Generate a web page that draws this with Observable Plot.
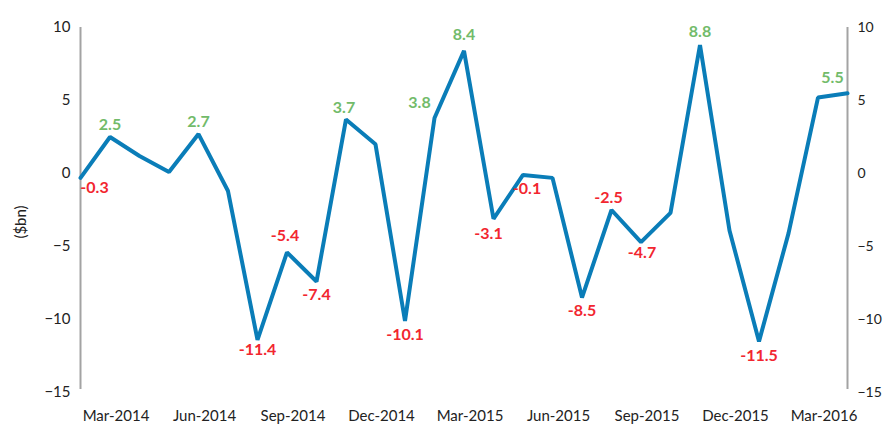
<!DOCTYPE html>
<html>
<head>
<meta charset="utf-8">
<script src="https://cdn.jsdelivr.net/npm/d3@7"></script>
<script src="https://cdn.jsdelivr.net/npm/@observablehq/plot@0.6"></script>
<style>
  html, body { margin: 0; padding: 0; background: #fff; }
  #chart { width: 883px; height: 425px; }
  svg { font-family: Lato, "Open Sans", sans-serif; }
</style>
</head>
<body>
<div id="chart"></div>
<script>
// Months (categories)
const months = [
  "Feb-2014","Mar-2014","Apr-2014","May-2014","Jun-2014","Jul-2014","Aug-2014","Sep-2014","Oct-2014","Nov-2014","Dec-2014",
  "Jan-2015","Feb-2015","Mar-2015","Apr-2015","May-2015","Jun-2015","Jul-2015","Aug-2015","Sep-2015","Oct-2015","Nov-2015","Dec-2015",
  "Jan-2016","Feb-2016","Mar-2016","Apr-2016"
];
// Series values ($bn)
const values = [
  -0.3, 2.5, 1.2, 0.1, 2.7, -1.2, -11.4, -5.4, -7.4, 3.7, 2.0,
  -10.1, 3.8, 8.4, -3.1, -0.1, -0.3, -8.5, -2.5, -4.7, -2.7, 8.8, -3.9,
  -11.5, -4.1, 5.2, 5.5
];
// Months that carry a value label
const labelledMonths = [
  "Feb-2014","Mar-2014","Jun-2014","Aug-2014","Sep-2014","Oct-2014","Nov-2014","Jan-2015","Feb-2015","Mar-2015",
  "Apr-2015","May-2015","Jul-2015","Aug-2015","Sep-2015","Nov-2015","Jan-2016","Apr-2016"
];
// X-axis tick labels
const xTicks = ["Mar-2014","Jun-2014","Sep-2014","Dec-2014","Mar-2015","Jun-2015","Sep-2015","Dec-2015","Mar-2016"];
// Y-axis ticks
const yTicks = [-15, -10, -5, 0, 5, 10];
const yTitle = "($bn)";

const data = months.map((m, i) => ({month: m, value: values[i]}));

// label placement (dx, dy) per labelled month — styling only
const placement = {
  "Feb-2014": [14, 10], "Mar-2014": [0, -12], "Jun-2014": [0, -12], "Aug-2014": [0, 10],
  "Sep-2014": [-2, -16], "Oct-2014": [0, 13], "Nov-2014": [-2, -12], "Jan-2015": [0, 14],
  "Feb-2015": [-15, -15], "Mar-2015": [0, -16], "Apr-2015": [-5, 15], "May-2015": [4, 14],
  "Jul-2015": [0, 13], "Aug-2015": [-3, -12], "Sep-2015": [1, 11], "Nov-2015": [0, -13],
  "Jan-2016": [0, 14], "Apr-2016": [-15, -15]
};
const labels = data.filter(d => labelledMonths.includes(d.month)).map(d => ({
  ...d,
  dx: placement[d.month][0],
  dy: placement[d.month][1]
}));

const green = "#72bb6a", red = "#f2262f", blue = "#0a7db8", gray = "#a3a3a3";

const textMarks = labels.map(d => Plot.text([d], {
  x: "month", y: "value",
  text: v => v.value.toFixed(1),
  dx: d.dx, dy: d.dy,
  fill: d.value >= 0 ? green : red,
  fontSize: 16, fontWeight: "bold",
  textAnchor: "middle", lineAnchor: "middle"
}));

const chart = Plot.plot({
  width: 883,
  height: 425,
  marginLeft: 80,
  marginRight: 36,
  marginTop: 27,
  marginBottom: 33,
  style: {fontFamily: "Lato, 'Open Sans', sans-serif", fontSize: "15px", color: "#222", background: "#fff"},
  x: {type: "point", domain: months, padding: 0, round: false},
  y: {domain: [-15, 10]},
  marks: [
    Plot.ruleY([0], {x1: months[0], x2: months[months.length - 1], stroke: gray, strokeWidth: 2}),
    Plot.ruleX([months[0], months[months.length - 1]], {y1: -14.8, y2: 10, stroke: gray, strokeWidth: 2}),
    Plot.line(data, {x: "month", y: "value", stroke: blue, strokeWidth: 4, strokeLinejoin: "miter", curve: "linear"}),
    ...textMarks,
    Plot.axisX({ticks: xTicks, tickSize: 0, tickPadding: 18, fontSize: 15, dx: 6, label: null, fill: "#222"}),
    Plot.axisY({anchor: "left", ticks: yTicks, tickSize: 0, tickPadding: 10, fontSize: 15, label: null, fill: "#222"}),
    Plot.axisY({anchor: "right", ticks: yTicks, tickSize: 0, tickPadding: 10, fontSize: 14, label: null, fill: "#222"}),
    Plot.text([yTitle], {frameAnchor: "left", rotate: -90, dx: -59, dy: 12, fontSize: 15, fill: "#222", textAnchor: "middle", lineAnchor: "middle"})
  ]
});
document.getElementById("chart").appendChild(chart);
</script>
</body>
</html>
